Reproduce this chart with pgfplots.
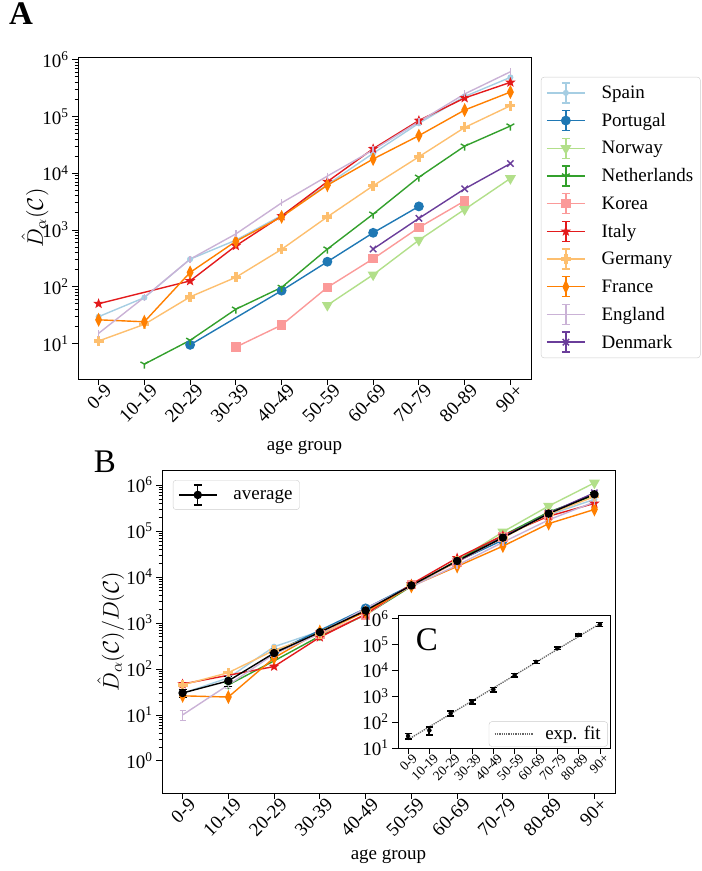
\documentclass[border=0pt]{standalone}
\usepackage{fix-cm}
\usepackage{pgfplots}
\pgfplotsset{compat=1.18}
\usepackage{fontspec}
\setmainfont{Liberation Serif}
\usetikzlibrary{plotmarks}
\definecolor{cSpain}{HTML}{A6CEE3}
\definecolor{cPortugal}{HTML}{1F78B4}
\definecolor{cNorway}{HTML}{B2DF8A}
\definecolor{cNeth}{HTML}{33A02C}
\definecolor{cKorea}{HTML}{FB9A99}
\definecolor{cItaly}{HTML}{E31A1C}
\definecolor{cGermany}{HTML}{FDBF6F}
\definecolor{cFrance}{HTML}{FF7F00}
\definecolor{cEngland}{HTML}{CAB2D6}
\definecolor{cDenmark}{HTML}{6A3D9A}
\pgfdeclareplotmark{fstar}{%
  \pgfpathmoveto{\pgfpointpolar{90}{\pgfplotmarksize}}%
  \pgfpathlineto{\pgfpointpolar{126}{0.42\pgfplotmarksize}}%
  \pgfpathlineto{\pgfpointpolar{162}{\pgfplotmarksize}}%
  \pgfpathlineto{\pgfpointpolar{198}{0.42\pgfplotmarksize}}%
  \pgfpathlineto{\pgfpointpolar{234}{\pgfplotmarksize}}%
  \pgfpathlineto{\pgfpointpolar{270}{0.42\pgfplotmarksize}}%
  \pgfpathlineto{\pgfpointpolar{306}{\pgfplotmarksize}}%
  \pgfpathlineto{\pgfpointpolar{342}{0.42\pgfplotmarksize}}%
  \pgfpathlineto{\pgfpointpolar{18}{\pgfplotmarksize}}%
  \pgfpathlineto{\pgfpointpolar{54}{0.42\pgfplotmarksize}}%
  \pgfpathclose
  \pgfusepathqfill}
\pgfdeclareplotmark{pplus}{%
  \pgfpathrectangle{\pgfpoint{-\pgfplotmarksize}{-0.34\pgfplotmarksize}}{\pgfpoint{2\pgfplotmarksize}{0.68\pgfplotmarksize}}%
  \pgfusepathqfill
  \pgfpathrectangle{\pgfpoint{-0.34\pgfplotmarksize}{-\pgfplotmarksize}}{\pgfpoint{0.68\pgfplotmarksize}{2\pgfplotmarksize}}%
  \pgfusepathqfill}
\newcommand{\fs}{\fontsize{19}{22}\selectfont}
\newcommand{\tp}[1]{10\textsuperscript{#1}}
\pgfplotsset{
  spain/.style={color=cSpain, mark=*, mark size=2.3pt},
  portugal/.style={color=cPortugal, mark=*, mark size=4.2pt},
  norway/.style={color=cNorway, mark=triangle*, mark size=5pt, mark options={rotate=180}},
  netherlands/.style={color=cNeth, mark=Mercedes star flipped, mark size=4.5pt},
  korea/.style={color=cKorea, mark=square*, mark size=4pt},
  italy/.style={color=cItaly, mark=fstar, mark size=5.5pt},
  germany/.style={color=cGermany, mark=pplus, mark size=5pt},
  france/.style={color=cFrance, mark=diamond*, mark size=5.5pt, mark options={xscale=0.65}},
  england/.style={color=cEngland, mark=|, mark size=3.5pt},
  denmark/.style={color=cDenmark, mark=x, mark size=4.5pt},
}
\begin{document}
\begin{tikzpicture}
\useasboundingbox (0,0) rectangle (702pt,-871pt);
% ---------------- Panel A
\begin{axis}[at={(78pt,-57pt)}, anchor=north west, scale only axis, width=453pt, height=322pt,
  xmin=-0.45, xmax=9.45, ymode=log, ymin=2.35, ymax=1.12e6,
  xtick={0,...,9}, xticklabels={0-9,10-19,20-29,30-39,40-49,50-59,60-69,70-79,80-89,90+},
  tick pos=left, tick align=outside, major tick length=6pt, minor tick length=3.5pt,
  tick style={black, line width=0.8pt}, axis line style={line width=0.8pt},
  xticklabel style={rotate=45, anchor=north east, font=\fs, xshift=7pt, inner sep=2pt},
  yticklabel style={font=\fs},
  ytick={1e1,1e2,1e3,1e4,1e5,1e6}, yticklabels={\tp{1},\tp{2},\tp{3},\tp{4},\tp{5},\tp{6}},
  xlabel={age group},
  xlabel style={font=\fs, at={(axis description cs:0.5,-0.213)}, anchor=center},
  ylabel={\scalebox{1.36}{$\hat{D}_\alpha(\mathcal{C})$}},
  ylabel style={font=\fontsize{16.5}{20}\selectfont, at={(axis description cs:-0.095,0.5)}, anchor=center},
  every axis plot/.append style={line width=1.4pt},
  legend image code/.code={%
    \draw[#1,mark=none] (0pt,0pt) -- (38pt,0pt);
    \draw[#1,mark=none] (19pt,-10pt) -- (19pt,10pt);
    \draw[#1,mark=none] (15pt,-10pt) -- (23pt,-10pt);
    \draw[#1,mark=none] (15pt,10pt) -- (23pt,10pt);
    \draw[#1] plot coordinates {(19pt,0pt)};
    \path (52pt,0pt);
  },
  legend style={font=\fs, draw=black!20, rounded corners=3pt, fill=white,
      cells={anchor=west}, row sep=6.3pt, inner xsep=5pt, inner ysep=5pt,
      at={(1.022,0.938)}, anchor=north west}]
\addplot[spain] coordinates {(0,29.5)(1,64)(2,305)(3,660)(4,1800)(5,6300)(6,22400)(7,76000)(8,225000)(9,490000)};
\addlegendentry{Spain}
\addplot[portugal] coordinates {(2,9.4)(4,85)(5,275)(6,890)(7,2600)};
\addlegendentry{Portugal}
\addplot[norway] coordinates {(5,47)(6,162)(7,660)(8,2300)(9,8100)};
\addlegendentry{Norway}
\addplot[netherlands] coordinates {(1,4.3)(2,11.3)(3,40)(4,97)(5,460)(6,1900)(7,8500)(8,30000)(9,68000)};
\addlegendentry{Netherlands}
\addplot[korea] coordinates {(3,8.6)(4,21)(5,97)(6,310)(7,1100)(8,3250)};
\addlegendentry{Korea}
\addplot[italy] coordinates {(0,50)(2,126)(3,525)(4,1760)(5,7100)(6,27000)(7,85000)(8,212000)(9,400000)};
\addlegendentry{Italy}
\addplot[germany] coordinates {(0,11)(1,21.6)(2,66)(3,146)(4,455)(5,1700)(6,6000)(7,19500)(8,64000)(9,155000)};
\addlegendentry{Germany}
\addplot[france] coordinates {(0,26)(1,24)(2,178)(3,630)(4,1700)(5,6150)(6,17800)(7,46000)(8,130000)(9,270000)};
\addlegendentry{France}
\addplot[england] coordinates {(0,15)(1,65)(2,305)(3,850)(4,3000)(5,8900)(6,25700)(7,81000)(8,250000)(9,615000)};
\addlegendentry{England}
\addplot[denmark] coordinates {(6,460)(7,1600)(8,5300)(9,14800)};
\addlegendentry{Denmark}
\end{axis}
% ---------------- Panel B
\begin{axis}[at={(162pt,-470pt)}, anchor=north west, scale only axis, width=453pt, height=323pt,
  xmin=-0.45, xmax=9.45, ymode=log, ymin=0.2, ymax=2.13e6,
  xtick={0,...,9}, xticklabels={0-9,10-19,20-29,30-39,40-49,50-59,60-69,70-79,80-89,90+},
  tick pos=left, tick align=outside, major tick length=6pt, minor tick length=3.5pt,
  tick style={black, line width=0.8pt}, axis line style={line width=0.8pt},
  xticklabel style={rotate=45, anchor=north east, font=\fs, xshift=7pt, inner sep=2pt},
  yticklabel style={font=\fs},
  ytick={1,1e1,1e2,1e3,1e4,1e5,1e6}, yticklabels={\tp{0},\tp{1},\tp{2},\tp{3},\tp{4},\tp{5},\tp{6}},
  xlabel={age group},
  xlabel style={font=\fs, at={(axis description cs:0.5,-0.198)}, anchor=center},
  ylabel={\scalebox{1.36}{$\hat{D}_\alpha(\mathcal{C})/D(\mathcal{C})$}},
  ylabel style={font=\fontsize{16.5}{20}\selectfont, at={(axis description cs:-0.113,0.5)}, anchor=center},
  every axis plot/.append style={line width=1.4pt},
  legend image code/.code={%
    \draw[#1,mark=none] (0pt,0pt) -- (38pt,0pt);
    \draw[#1,mark=none] (19pt,-10pt) -- (19pt,10pt);
    \draw[#1,mark=none] (15pt,-10pt) -- (23pt,-10pt);
    \draw[#1,mark=none] (15pt,10pt) -- (23pt,10pt);
    \draw[#1] plot coordinates {(19pt,0pt)};
    \path (52pt,0pt);
  },
  legend style={font=\fs, draw=black!20, rounded corners=3pt, fill=white,
      cells={anchor=west}, inner xsep=5pt, inner ysep=4pt,
      at={(0.024,0.969)}, anchor=north west}]
\addplot[spain, forget plot] coordinates {(0,29.5)(1,64)(2,305)(3,660)(4,1800)(5,6300)(6,22400)(7,76000)(8,225000)(9,490000)};
\addplot[portugal, forget plot] coordinates {(2,230)(4,2080)(5,6700)(6,21800)(7,63700)};
\addplot[norway, forget plot] coordinates {(5,6500)(6,22400)(7,96000)(8,350000)(9,1120000)};
\addplot[netherlands, forget plot] coordinates {(1,45)(2,150)(3,520)(4,1500)(5,6300)(6,23000)(7,80000)(8,260000)(9,600000)};
\addplot[korea, forget plot] coordinates {(3,560)(4,1500)(5,6800)(6,21000)(7,75000)(8,225000)};
\addplot[italy, forget plot] coordinates {(0,47)(2,113)(3,490)(4,1550)(5,7000)(6,26000)(7,80000)(8,210000)(9,400000)};
\addplot[germany, forget plot] coordinates {(0,45)(1,83)(2,255)(3,570)(4,1800)(5,6500)(6,22000)(7,71000)(8,235000)(9,560000)};
\addplot[france, forget plot] coordinates {(0,26)(1,24.5)(2,175)(3,650)(4,1750)(5,6300)(6,17000)(7,47000)(8,145000)(9,295000)};
\addplot[england, forget plot, error bars/.cd, y dir=both, y explicit, error bar style={line width=1.2pt}, error mark options={rotate=90, mark size=3pt, line width=1.2pt}] coordinates {(0,10) +- (0,2.5) (1,45) +- (0,8) (2,210) +- (0,0) (3,590) +- (0,0) (4,2100) +- (0,0) (5,6200) +- (0,0) (6,18000) +- (0,0) (7,57000) +- (0,0) (8,175000) +- (0,0) (9,430000) +- (0,0)};
\addplot[denmark, forget plot] coordinates {(6,21600)(7,74000)(8,245000)(9,680000)};
\addplot[black, mark=*, mark size=3.5pt, error bars/.cd, y dir=both, y explicit, error bar style={line width=1.2pt}, error mark options={rotate=90, mark size=4pt, line width=1.2pt}] coordinates {
 (0,30) +- (0,6) (1,55) +- (0,14) (2,222) +- (0,45) (3,630) +- (0,70) (4,1870) +- (0,200)
 (5,6560) +- (0,500) (6,22400) +- (0,1800) (7,72000) +- (0,6000) (8,240000) +- (0,20000) (9,630000) +- (0,60000)};
\addlegendentry{average}
\end{axis}
% ---------------- Panel C (inset)
\begin{axis}[at={(398pt,-615pt)}, anchor=north west, scale only axis, width=212pt, height=133pt,
  xmin=-0.47, xmax=9.47, ymode=log, ymin=10, ymax=1.35e6,
  axis background/.style={fill=white},
  tick pos=left, tick align=outside, major tick length=6pt, minor tick length=0pt,
  tick style={black, line width=0.8pt}, axis line style={line width=0.8pt},
  ytick={1e1,1e2,1e3,1e4,1e5,1e6}, yticklabels={\tp{1},\tp{2},\tp{3},\tp{4},\tp{5},\tp{6}},
  yticklabel style={font=\fs},
  xtick={0,...,9}, xticklabels={0-9,10-19,20-29,30-39,40-49,50-59,60-69,70-79,80-89,90+},
  xticklabel style={rotate=45, anchor=north east, font=\fontsize{13.5}{16}\selectfont, xshift=5pt, inner sep=1.5pt},
  legend image code/.code={%
    \draw[#1] (0pt,0pt) -- (38pt,0pt);
    \path (48pt,0pt);
  },
  legend style={font=\fs, draw=black!20, rounded corners=3pt, fill=white, at={(0.99,0.01)}, anchor=south east, inner xsep=5pt, inner ysep=3pt}]
\addplot[black!60, densely dotted, line width=1.3pt] coordinates {(0,21)(9,630000)};
\addlegendentry{exp. fit}
\addplot[black, only marks, mark=none, forget plot, error bars/.cd, y dir=both, y explicit, error bar style={line width=2pt}, error mark options={rotate=90, mark size=3.5pt, line width=1.6pt}] coordinates {
 (0,29) +- (0,7) (1,48) +- (0,16) (2,220) +- (0,50) (3,600) +- (0,110) (4,1800) +- (0,350)
 (5,6500) +- (0,900) (6,21000) +- (0,2500) (7,70000) +- (0,7000) (8,230000) +- (0,25000) (9,590000) +- (0,110000)};
\end{axis}
\node[font=\fontsize{33}{36}\selectfont\bfseries] at (21pt,-14pt) {A};
\node[font=\fontsize{33}{36}\selectfont] at (105pt,-462pt) {B};
\node[font=\fontsize{33}{36}\selectfont] at (427pt,-640pt) {C};
\end{tikzpicture}
\end{document}
